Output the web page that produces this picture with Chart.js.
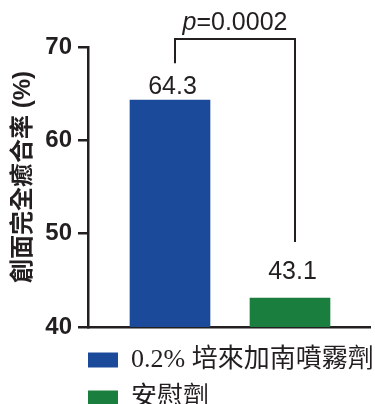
<!DOCTYPE html>
<html>
<head>
<meta charset="utf-8">
<script src="https://cdn.jsdelivr.net/npm/chart.js@4/dist/chart.umd.min.js"></script>
<style>
    html, body { margin: 0; padding: 0; background: #fff; }
    #wrap { width: 375px; height: 404px; }
</style>
</head>
<body>
<div id="wrap"><canvas id="healing-chart"></canvas></div>
<script>
// Treatment groups and healing rates (%)
const groups = ['0.2% 培來加南噴霧劑', '安慰劑'];
const healRates = [64.3, 43.1];
const groupColors = ['#1c4a9b', '#1a7e3f'];
const yTicks = [40, 50, 60, 70];
const pValueText = '=0.0002';

const ink = '#231f20';

// Value labels over the bars and the p-value bracket between them
const annotations = {
    id: 'annotations',
    afterDatasetsDraw(chart) {
        const ctx = chart.ctx;
        const bars = chart.data.datasets.map((d, i) => chart.getDatasetMeta(i).data[0]);
        const labelGap = [6, 19];

        ctx.save();
        ctx.fillStyle = ink;
        ctx.textAlign = 'center';
        ctx.textBaseline = 'alphabetic';
        ctx.font = '25px "Liberation Sans", Arial, sans-serif';
        bars.forEach((bar, i) => {
            ctx.fillText(healRates[i].toFixed(1), bar.x + 2.5, bar.y - labelGap[i]);
        });

        // bracket
        const yTop = chart.scales.y.getPixelForValue(yTicks[yTicks.length - 1]) - 8;
        const xl = bars[0].x + 5;
        const xr = bars[1].x + 5;
        ctx.strokeStyle = ink;
        ctx.lineWidth = 2;
        ctx.beginPath();
        ctx.moveTo(xl, bars[0].y - 37);
        ctx.lineTo(xl, yTop);
        ctx.lineTo(xr, yTop);
        ctx.lineTo(xr, bars[1].y - 56);
        ctx.stroke();

        // italic p followed by the value
        const italic = 'italic 25px "Liberation Sans", Arial, sans-serif';
        const plain = '25px "Liberation Sans", Arial, sans-serif';
        ctx.font = italic;
        const wp = ctx.measureText('p').width;
        ctx.font = plain;
        const wv = ctx.measureText(pValueText).width;
        const x0 = (xl + xr) / 2 - (wp + wv) / 2;
        ctx.textAlign = 'left';
        ctx.font = italic;
        ctx.fillText('p', x0, yTop - 9);
        ctx.font = plain;
        ctx.fillText(pValueText, x0 + wp, yTop - 9);
        ctx.restore();
    }
};

// Line the legend boxes up with the y axis and let the text run to the edge
const legendAlign = {
    id: 'legendAlign',
    afterLayout(chart) {
        const legend = chart.legend;
        legend.left -= legend.options.labels.padding;
        legend.right = chart.width;
        legend.width = legend.right - legend.left;
    }
};

const ctx = document.getElementById('healing-chart').getContext('2d');

const healingChart = new Chart(ctx, {
    type: 'bar',
    data: {
        datasets: groups.map((name, i) => ({
            label: name,
            data: [{ x: i + 1, y: healRates[i] }],
            backgroundColor: groupColors[i],
            borderWidth: 0,
            barThickness: 80,
            grouped: false
        }))
    },
    options: {
        responsive: true,
        maintainAspectRatio: false,
        animation: false,
        layout: {
            padding: { top: 47, right: 5, bottom: 0, left: 0 }
        },
        scales: {
            x: {
                type: 'linear',
                offset: false,
                min: 0.3167,
                max: 2.6667,
                ticks: { display: false },
                grid: { display: false },
                border: { display: true, color: ink, width: 2.5 },
                afterFit(scale) { scale.height = 8; }
            },
            y: {
                min: 40,
                max: 70,
                afterBuildTicks(scale) {
                    scale.ticks = yTicks.map(v => ({ value: v }));
                },
                ticks: {
                    color: ink,
                    padding: 6,
                    font: { family: '"Liberation Sans", Arial, sans-serif', size: 24, weight: 'bold' }
                },
                grid: {
                    drawOnChartArea: false,
                    drawTicks: true,
                    tickLength: 10,
                    tickColor: ink,
                    lineWidth: 2.5
                },
                border: { display: true, color: ink, width: 2.5 },
                title: {
                    display: true,
                    text: '   創面完全癒合率 (%)',
                    color: ink,
                    padding: { top: 9, bottom: 0 },
                    font: { family: '"Liberation Sans", "Noto Sans CJK TC", sans-serif', size: 24, weight: 'bold' }
                },
                afterFit(scale) { scale.width = 88; }
            }
        },
        plugins: {
            legend: {
                position: 'bottom',
                align: 'start',
                fullSize: false,
                maxHeight: 69,
                labels: {
                    boxWidth: 30,
                    boxHeight: 15,
                    padding: 12,
                    color: ink,
                    font: { family: '"Liberation Serif", "Noto Sans CJK TC", serif', size: 26 }
                }
            },
            tooltip: { enabled: false }
        }
    },
    plugins: [annotations, legendAlign]
});
</script>
</body>
</html>
